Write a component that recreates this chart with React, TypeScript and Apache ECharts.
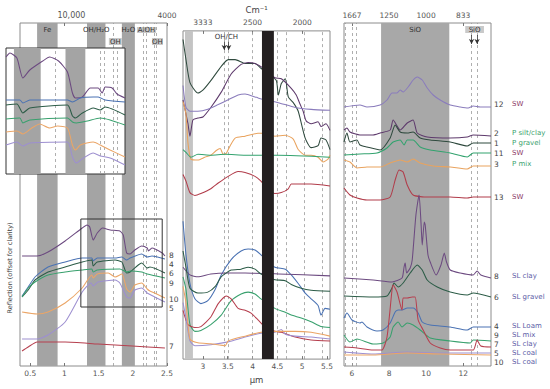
import React, { useEffect, useRef } from "react";
import * as echarts from "echarts";

const FONT = "DejaVu Sans";

// ---------- Panel 1: VNIR (µm vs offset reflectance) ----------
const vnir8 = [[0.38,110],[0.6,110],[0.76,114],[1.01,125],[1.26,138],[1.33,141],[1.37,139],[1.42,126],[1.48,133],[1.56,138],[1.67,136],[1.81,135],[1.86,131],[1.91,113],[1.96,112],[2.03,116],[2.13,120],[2.21,118],[2.23,115],[2.28,118],[2.43,113],[2.47,110]];
const vnir4 = [[0.38,70],[0.47,79],[0.57,89],[0.76,99],[1.01,104],[1.26,108],[1.4,108],[1.42,105],[1.48,108],[1.74,108],[1.84,109],[1.91,106],[1.96,108],[2.13,112],[2.21,109],[2.28,110],[2.47,107]];
const vnir6 = [[0.38,69],[0.47,76],[0.57,86],[0.76,94],[1.01,99],[1.26,104],[1.4,106],[1.42,100],[1.48,104],[1.74,106],[1.84,104],[1.91,93],[1.96,94],[2.08,101],[2.13,103],[2.21,98],[2.25,99],[2.47,93]];
const vnir9 = [[0.38,69],[0.47,78],[0.57,84],[0.76,91],[1.01,94],[1.26,96],[1.4,97],[1.42,94],[1.48,96],[1.81,97],[1.91,94],[1.96,95],[2.13,94],[2.21,92],[2.47,88]];
const vnir10 = [[0.38,54],[0.6,52],[0.76,54],[1.01,63],[1.26,78],[1.4,91],[1.42,88],[1.48,92],[1.64,93],[1.74,89],[1.84,92],[1.91,77],[1.96,74],[2.03,81],[2.13,83],[2.21,77],[2.25,75],[2.32,73],[2.47,68]];
const vnir5 = [[0.38,27],[0.6,27],[0.76,31],[1.01,44],[1.26,74],[1.39,83],[1.42,80],[1.49,84],[1.74,86],[1.81,83],[1.91,69],[1.96,68],[2.03,76],[2.13,78],[2.21,73],[2.32,69],[2.47,64]];
const vnir7 = [[0.38,15],[0.47,19],[0.6,24],[1.01,24],[1.49,22],[1.99,20],[2.47,18]];

const vnirTicks = [0.5, 1, 1.5, 2, 2.5];
const vnirTopTicks = [1, 2.5];
const vnirBands = [[0.6, 0.9], [1.33, 1.6], [1.84, 2.03]];
const vnirBandNames = ["Fe", "OH/H₂O", "H₂O"];
const vnirDashes = [1.71, 2.155, 2.2, 2.31, 2.35];
const vnirBoxes = [[2.06, 2.34, 333, 339], [1.65, 1.84, 321, 328], [2.28, 2.44, 321, 328]];
const vnirBoxNames = ["AlOH", "OH", "OH"];
const zoomBox = [[1.24, 59], [2.43, 147]];

// ---------- Inset: zoom of 1.25–2.45 µm ----------
const in8 = [[1.25,117],[1.29,121],[1.36,116],[1.42,96],[1.49,104],[1.62,113],[1.69,117],[1.78,113],[1.87,102],[1.92,81],[1.95,76],[2.02,77],[2.1,86],[2.18,86],[2.22,81],[2.25,87],[2.32,86],[2.37,80],[2.45,76]];
const in4 = [[1.25,74],[1.39,74],[1.42,71],[1.49,74],[1.87,74],[1.92,72],[2.0,76],[2.13,77],[2.18,77],[2.25,74],[2.45,72]];
const in6 = [[1.25,69],[1.36,70],[1.42,61],[1.49,66],[1.87,69],[1.92,58],[1.95,56],[2.02,61],[2.13,66],[2.2,64],[2.25,67],[2.45,59]];
const in9 = [[1.25,55],[1.39,56],[1.42,51],[1.49,54],[1.87,56],[1.92,52],[1.96,51],[2.07,53],[2.2,56],[2.3,54],[2.45,49]];
const in10 = [[1.25,42],[1.36,43],[1.42,40],[1.51,46],[1.59,50],[1.69,46],[1.77,48],[1.87,46],[1.92,29],[1.95,24],[2.0,29],[2.13,32],[2.2,29],[2.3,24],[2.45,17]];
const in5 = [[1.25,29],[1.36,32],[1.42,28],[1.49,31],[1.87,32],[1.92,17],[1.96,11],[2.03,16],[2.13,21],[2.2,18],[2.3,16],[2.45,9]];
const insetBands = [[1.33, 1.6], [1.85, 2.05]];
const insetDashes = [1.745, 2.2, 2.24, 2.33, 2.37];

// ---------- Panel 2: MIR 2.6–5.56 µm ----------
const mir1 = [[2.6,334],[2.66,313],[2.74,289],[2.9,278],[3.0,281],[3.16,291],[3.37,306],[3.51,313],[3.65,313],[3.85,309],[4.05,309],[4.17,304],[4.37,296],[4.48,291],[4.52,276],[4.58,288],[4.66,293],[4.72,274],[4.82,268],[4.92,259],[5.06,231],[5.18,221],[5.32,223],[5.38,231],[5.48,229],[5.56,219]];
const mir2 = [[2.6,271],[2.7,246],[2.74,233],[2.8,250],[2.9,252],[3.0,253],[3.16,263],[3.37,279],[3.57,298],[3.77,308],[3.91,310],[4.05,309],[4.25,303],[4.45,294],[4.58,293],[4.78,283],[4.88,276],[4.96,266],[5.02,259],[5.08,249],[5.18,246],[5.32,248],[5.38,243],[5.48,246],[5.56,239]];
const mir12 = [[2.6,286],[2.66,263],[2.74,259],[2.9,259],[3.1,261],[3.31,266],[3.51,271],[3.71,276],[3.85,277],[4.05,274],[4.11,273],[4.25,271],[4.52,268],[4.86,263],[5.18,261],[5.56,260]];
const mir3 = [[2.6,269],[2.66,256],[2.7,226],[2.76,209],[2.9,208],[3.04,211],[3.16,213],[3.27,218],[3.35,220],[3.41,214],[3.47,215],[3.55,223],[3.65,231],[3.85,233],[4.11,236],[4.25,236],[4.45,233],[4.66,234],[4.82,230],[4.92,219],[5.06,213],[5.18,213],[5.32,211],[5.42,206],[5.52,209],[5.56,213]];
const mir11 = [[2.6,219],[2.66,216],[2.76,211],[2.9,214],[3.16,213],[3.45,214],[3.85,213],[4.52,213],[5.56,211]];
const mir13 = [[2.6,193],[2.66,186],[2.74,174],[2.84,171],[2.96,173],[3.16,178],[3.31,184],[3.51,191],[3.71,196],[3.85,195],[4.05,191],[4.17,186],[4.31,178],[4.45,173],[4.58,174],[4.72,178],[4.78,183],[4.92,183],[5.18,183],[5.56,181]];
const mir4 = [[2.6,144],[2.66,109],[2.74,79],[2.84,63],[2.96,58],[3.1,61],[3.25,73],[3.37,88],[3.57,104],[3.77,113],[3.91,115],[4.05,114],[4.17,109],[4.45,96],[4.66,94],[4.78,88],[4.92,79],[5.06,69],[5.18,63],[5.32,56],[5.38,46],[5.46,53],[5.56,52]];
const mir8 = [[2.6,96],[2.74,88],[2.9,86],[3.16,89],[3.51,90],[3.85,90],[4.52,89],[5.56,87]];
const mir6 = [[2.6,113],[2.66,96],[2.74,74],[2.9,69],[3.1,70],[3.25,76],[3.37,86],[3.57,93],[3.77,94],[3.91,96],[4.05,94],[4.17,89],[4.45,83],[4.66,82],[4.78,78],[4.98,74],[5.18,72],[5.56,71]];
const mir9 = [[2.6,86],[2.66,73],[2.74,36],[2.84,29],[2.96,30],[3.16,36],[3.37,46],[3.57,61],[3.77,68],[3.91,70],[4.05,68],[4.17,63],[4.45,53],[4.66,49],[4.78,46],[4.98,43],[5.18,39],[5.38,34],[5.56,33]];
const mir7 = [[2.6,51],[2.7,36],[2.84,33],[2.96,34],[3.16,44],[3.31,58],[3.47,66],[3.57,63],[3.71,53],[3.85,51],[3.97,48],[4.11,41],[4.25,34],[4.45,29],[4.58,28],[4.86,23],[5.18,20],[5.56,19]];
const mir5 = [[2.6,59],[2.66,43],[2.74,19],[2.84,14],[3.16,15],[3.51,18],[3.85,23],[4.17,27],[4.45,28],[4.58,31],[4.66,26],[4.86,24],[5.18,23],[5.56,21]];
const mir10 = [[2.6,76],[2.66,59],[2.74,21],[2.9,17],[3.16,16],[3.45,14],[3.51,19],[3.85,24],[4.17,28],[4.52,29],[4.86,29],[5.18,28],[5.56,24]];

const mirTicks = [3, 3.5, 4, 4.5, 5, 5.5];
const mirTopTicks = [3, 4, 5];
const mirLightBand = [2.64, 2.8];
const mirDarkBand = [4.19, 4.43];
const mirDashes = [3.43, 3.52, 3.99, 4.5, 4.68, 5.05, 5.4];
const mirArrows = [3.43, 3.52];

// ---------- Panel 3: TIR 5.57–13.5 µm ----------
const tir12 = [[5.57,259],[6.43,261],[6.81,259],[7.52,261],[7.89,266],[8.16,273],[8.43,273],[8.6,276],[8.76,274],[9.03,279],[9.3,286],[9.52,289],[9.79,286],[10.06,278],[10.38,271],[10.76,266],[11.3,261],[11.84,259],[12.27,258],[12.54,260],[12.92,259],[13.5,259]];
const tir2 = [[5.57,236],[5.73,238],[5.89,234],[6.43,231],[7.14,231],[7.52,233],[8.06,236],[8.22,246],[8.6,236],[8.98,243],[9.3,246],[9.52,233],[10.06,229],[11.3,228],[12.22,229],[12.54,231],[13.5,230]];
const tir1 = [[5.57,224],[5.73,233],[5.89,224],[6.27,226],[6.43,221],[6.81,219],[7.52,216],[8.06,228],[8.33,241],[8.6,234],[8.98,233],[9.3,234],[9.68,228],[10.22,226],[11.3,224],[12.22,220],[12.54,223],[13.5,223]];
const tir11 = [[5.57,211],[6.43,212],[7.35,213],[7.89,218],[8.22,224],[8.6,226],[8.81,221],[8.98,226],[9.3,226],[9.68,219],[10.22,216],[11.3,213],[12.22,209],[12.54,213],[13.5,213]];
const tir3 = [[5.57,206],[5.89,204],[6.27,198],[6.81,199],[7.52,199],[8.06,203],[8.6,206],[8.98,204],[9.3,207],[9.68,203],[10.38,200],[11.3,199],[12.22,197],[12.54,200],[13.5,200]];
const tir13 = [[5.57,178],[5.89,171],[6.27,168],[6.81,166],[7.52,166],[8.06,169],[8.33,186],[8.54,196],[8.76,194],[8.98,181],[9.3,171],[10.06,169],[11.3,169],[12.22,168],[12.54,169],[13.5,169]];
const tir8 = [[5.57,88],[7.14,86],[8.16,84],[8.7,88],[8.81,99],[8.87,103],[8.95,93],[9.14,98],[9.25,106],[9.45,151],[9.62,171],[9.73,141],[9.79,121],[9.9,144],[9.95,141],[10.1,111],[10.22,104],[10.54,91],[10.8,101],[10.98,113],[11.1,104],[11.3,96],[11.84,93],[12.54,91],[12.75,95],[12.95,91],[13.5,88]];
const tir6 = [[5.57,70],[7.14,69],[7.89,70],[8.16,78],[8.27,83],[8.49,79],[8.76,83],[9.14,93],[9.52,101],[9.79,96],[10.06,86],[10.6,79],[11.3,74],[12.22,71],[12.54,73],[13.5,69]];
const tir4 = [[5.57,48],[5.73,53],[6.0,46],[6.43,43],[6.54,44],[6.81,39],[7.35,35],[7.68,36],[8.06,43],[8.33,54],[8.49,56],[8.7,56],[8.98,58],[9.3,58],[9.57,53],[9.79,44],[10.22,41],[11.3,39],[12.22,36],[12.54,39],[13.5,39]];
const tir9 = [[5.57,31],[5.89,24],[6.27,27],[7.14,22],[7.68,23],[8.06,29],[8.22,39],[8.49,44],[8.7,39],[8.98,43],[9.3,41],[9.68,36],[10.22,28],[11.3,25],[12.38,23],[12.54,26],[13.5,25]];
const tir7 = [[5.57,19],[6.27,18],[7.14,16],[7.62,16],[7.89,29],[8.16,76],[8.22,81],[8.43,74],[8.7,56],[8.76,68],[8.98,68],[9.25,69],[9.41,69],[9.57,46],[9.84,36],[10.22,23],[10.76,18],[11.3,16],[12.54,16],[12.75,26],[12.95,20],[13.5,19]];
const tir5 = [[5.57,14],[7.14,12],[8.98,14],[10.76,13],[13.5,13]];
const tir10 = [[5.57,11],[7.14,11],[8.98,13],[10.76,12],[13.5,11]];

const tirTicks = [6, 8, 10, 12];
const tirTopTicks = [6, 8, 10, 12];
const tirBand = [7.57, 11.25];
const tirDashes = [5.65, 6.02, 6.25, 12.45, 12.75];
const tirArrows = [12.45, 12.75];
const tirBox = [12.11, 13.12, 333, 340];

// sample numbers and names (right-hand labels)
const tirIds = ["12", "2", "1", "11", "3", "13", "8", "6", "4", "9", "7", "5", "10"];
const tirNames = ["SW", "P silt/clay", "P gravel", "SW", "P mix", "SW", "SL clay", "SL gravel", "SL Loam", "SL mix", "SL clay", "SL coal", "SL coal"];
const vnirIds = ["8", "4", "6", "9", "10", "5", "7"];

const C = {
  c1: "#2f4a3e", c2: "#5e3a6c", c3: "#e9a35e", c4: "#4a72b3", c5: "#9d8fd0",
  c6: "#2c5c47", c7: "#b63f4e", c8: "#6c4a80", c9: "#38a06d", c10: "#eba566",
  c11: "#33a36f", c12: "#8a7cbc", c13: "#b13c4a",
};
const NAME_COL: Record<string, string> = { SW: "#8c3b66", P: "#3a9f6e", SL: "#5a5ca6" };

function wn(v: number) {
  const n = Math.round(10000 / v);
  return n >= 10000 ? "{big|" + n.toLocaleString("en-US") + "}" : String(n);
}

function curve(data: number[][], color: string, idx: number, z = 3, endLabel?: any) {
  return {
    type: "line", data, xAxisIndex: idx, yAxisIndex: idx, symbol: "none", smooth: 0.2, z,
    silent: true, clip: true,
    lineStyle: { color, width: 1.05 },
    endLabel: endLabel || { show: false },
  };
}

function numLabel(id: string, dy: number) {
  return { show: true, formatter: id, distance: 4, offset: [0, dy], color: "#444", fontSize: 7.5, lineHeight: 7, fontFamily: FONT };
}
function tirLabel(i: number, dy: number) {
  const nm = tirNames[i];
  const col = nm.startsWith("SW") ? NAME_COL.SW : nm.startsWith("SL") ? NAME_COL.SL : NAME_COL.P;
  return {
    show: true, formatter: `{n|${tirIds[i]}}{t|${nm}}`, distance: 3, offset: [0, dy],
    rich: {
      n: { width: 18, color: "#444", fontSize: 7.5, lineHeight: 7, fontFamily: FONT },
      t: { color: col, fontSize: 7, lineHeight: 7, fontFamily: FONT },
    },
  };
}

const bandLabel = (t: string) => ({ show: true, position: "insideTop", distance: 3, formatter: t, color: "#333", fontSize: 7, fontFamily: FONT });
const dashStyle = { type: [3, 3], color: "#9a9a9a", width: 0.8 };

function decor(idx: number, x0: number, opts: any) {
  return { type: "line", xAxisIndex: idx, yAxisIndex: idx, data: [[x0, -50]], symbol: "none", lineStyle: { opacity: 0 }, silent: true, ...opts };
}

export default function App() {
  const ref = useRef<HTMLDivElement>(null);
  useEffect(() => {
    if (!ref.current) return;
    const chart = echarts.init(ref.current, undefined, { renderer: "svg" });
    const axisLabelBase = { fontSize: 7.5, color: "#555", fontFamily: FONT };
    const bottomAxis = (g: number, min: number, max: number, ticks: number[], name?: string) => ({
      type: "value", gridIndex: g, position: "bottom", min, max,
      axisLine: { show: false }, splitLine: { show: false },
      axisTick: { show: true, customValues: ticks, inside: true, length: 3, lineStyle: { color: "#777" } },
      axisLabel: { ...axisLabelBase, customValues: ticks, margin: 3, formatter: (v: number) => String(v) },
      name, nameLocation: "middle", nameGap: 12, nameTextStyle: { fontSize: 8.5, color: "#444", fontFamily: FONT },
    });
    const topAxis = (g: number, min: number, max: number, ticks: number[], name?: string) => ({
      type: "value", gridIndex: g, position: "top", min, max,
      axisLine: { show: false }, splitLine: { show: false },
      axisTick: { show: true, customValues: ticks, inside: true, length: 3, lineStyle: { color: "#777" } },
      axisLabel: {
        ...axisLabelBase, customValues: ticks, margin: 4, formatter: (v: number) => wn(v),
        rich: { big: { fontSize: 8, color: "#555", fontFamily: FONT, padding: [0, 0, 0, 14] } },
      },
      name, nameLocation: "middle", nameGap: 15, nameTextStyle: { fontSize: 8.5, color: "#444", fontFamily: FONT },
    });
    const yAx = (g: number, max: number) => ({ type: "value", gridIndex: g, min: 0, max, show: false });
    const gridBase = { show: true, borderColor: "#8c8c8c", borderWidth: 1, backgroundColor: "transparent" };

    const series: any[] = [
      // ---- panel 1 decor
      decor(0, 0.5, {
        z: 1,
        markArea: {
          z: 1, silent: true,
          data: [
            ...vnirBands.map((b, i) => [{ xAxis: b[0], itemStyle: { color: "#a4a4a4" }, label: bandLabel(vnirBandNames[i]) }, { xAxis: b[1] }]),
            ...vnirBoxes.map((b, i) => [{ coord: [b[0], b[2]], itemStyle: { color: "#c9c9c9" }, label: { show: true, position: "inside", formatter: vnirBoxNames[i], color: "#333", fontSize: 7, fontFamily: FONT } }, { coord: [b[1], b[3]] }]),
          ],
        },
        markLine: { z: 2, silent: true, symbol: ["none", "none"], label: { show: false }, lineStyle: dashStyle, data: vnirDashes.map((v) => ({ xAxis: v })) },
      }),
      decor(0, 0.5, {
        z: 5,
        markArea: { z: 5, silent: true, data: [[{ coord: zoomBox[0], itemStyle: { color: "rgba(0,0,0,0)", borderColor: "#333", borderWidth: 1 } }, { coord: zoomBox[1] }]] },
      }),
      curve(vnir8, C.c8, 0, 3, numLabel(vnirIds[0], -1)),
      curve(vnir4, C.c4, 0, 3, numLabel(vnirIds[1], 5)),
      curve(vnir6, C.c6, 0, 3, numLabel(vnirIds[2], 0)),
      curve(vnir9, C.c9, 0, 3, numLabel(vnirIds[3], 5)),
      curve(vnir10, C.c10, 0, 3, numLabel(vnirIds[4], 1)),
      curve(vnir5, C.c5, 0, 3, numLabel(vnirIds[5], 6)),
      curve(vnir7, C.c7, 0, 3, numLabel(vnirIds[6], -2)),

      // ---- inset
      decor(3, 1.3, {
        z: 10,
        markArea: { z: 10, silent: true, data: [[{ coord: [1.25, 0], itemStyle: { color: "#ffffff", borderColor: "#333", borderWidth: 1 } }, { coord: [2.45, 126] }]] },
      }),
      decor(3, 1.3, {
        z: 11,
        markArea: { z: 11, silent: true, data: insetBands.map((b) => [{ xAxis: b[0], itemStyle: { color: "#a4a4a4" } }, { xAxis: b[1] }]) },
        markLine: { z: 11, silent: true, symbol: ["none", "none"], label: { show: false }, lineStyle: dashStyle, data: insetDashes.map((v) => ({ xAxis: v })) },
      }),
      curve(in8, C.c8, 3, 12),
      curve(in4, C.c4, 3, 12),
      curve(in6, C.c6, 3, 12),
      curve(in9, C.c9, 3, 12),
      curve(in10, C.c10, 3, 12),
      curve(in5, C.c5, 3, 12),

      // ---- panel 2 decor
      decor(1, 3, {
        z: 1,
        markArea: {
          z: 1, silent: true,
          data: [
            [{ xAxis: mirLightBand[0], itemStyle: { color: "#c4c4c4" } }, { xAxis: mirLightBand[1] }],
            [{ coord: [3.3, 333], itemStyle: { color: "rgba(0,0,0,0)" }, label: { show: true, position: "inside", formatter: "OH/CH", color: "#333", fontSize: 7, fontFamily: FONT } }, { coord: [3.65, 341] }],
          ],
        },
        markLine: { z: 2, silent: true, symbol: ["none", "none"], label: { show: false }, lineStyle: dashStyle, data: mirDashes.map((v) => ({ xAxis: v })) },
      }),
      decor(1, 3, {
        z: 6,
        markArea: { z: 6, silent: true, data: [[{ xAxis: mirDarkBand[0], itemStyle: { color: "#231f20" } }, { xAxis: mirDarkBand[1] }]] },
        markLine: {
          z: 6, silent: true, symbol: ["none", "arrow"], symbolSize: [4, 5], label: { show: false },
          lineStyle: { type: "solid", color: "#333", width: 0.8 },
          data: mirArrows.map((v) => [{ coord: [v, 332] }, { coord: [v, 323] }]),
        },
      }),
      curve(mir1, C.c1, 1),
      curve(mir2, C.c2, 1),
      curve(mir12, C.c12, 1),
      curve(mir3, C.c3, 1),
      curve(mir11, C.c11, 1),
      curve(mir13, C.c13, 1),
      curve(mir4, C.c4, 1),
      curve(mir8, C.c8, 1),
      curve(mir6, C.c6, 1),
      curve(mir9, C.c9, 1),
      curve(mir7, C.c7, 1),
      curve(mir5, C.c5, 1),
      curve(mir10, C.c10, 1),

      // ---- panel 3 decor
      decor(2, 6, {
        z: 1,
        markArea: {
          z: 1, silent: true,
          data: [
            [{ xAxis: tirBand[0], itemStyle: { color: "#a8a8a8" }, label: bandLabel("SiO") }, { xAxis: tirBand[1] }],
            [{ coord: [tirBox[0], tirBox[2]], itemStyle: { color: "#c9c9c9" }, label: { show: true, position: "inside", formatter: "SiO", color: "#333", fontSize: 7, fontFamily: FONT } }, { coord: [tirBox[1], tirBox[3]] }],
          ],
        },
        markLine: { z: 2, silent: true, symbol: ["none", "none"], label: { show: false }, lineStyle: dashStyle, data: tirDashes.map((v) => ({ xAxis: v })) },
      }),
      decor(2, 6, {
        z: 6,
        markLine: {
          z: 6, silent: true, symbol: ["none", "arrow"], symbolSize: [4, 5], label: { show: false },
          lineStyle: { type: "solid", color: "#333", width: 0.8 },
          data: tirArrows.map((v) => [{ coord: [v, 331] }, { coord: [v, 322] }]),
        },
      }),
      curve(tir12, C.c12, 2, 3, tirLabel(0, -3)),
      curve(tir2, C.c2, 2, 3, tirLabel(1, -3)),
      curve(tir1, C.c1, 2, 3, tirLabel(2, 0)),
      curve(tir11, C.c11, 2, 3, tirLabel(3, 0)),
      curve(tir3, C.c3, 2, 3, tirLabel(4, -2)),
      curve(tir13, C.c13, 2, 3, tirLabel(5, 0)),
      curve(tir8, C.c8, 2, 3, tirLabel(6, -2)),
      curve(tir6, C.c6, 2, 3, tirLabel(7, 0)),
      curve(tir4, C.c4, 2, 3, tirLabel(8, -1)),
      curve(tir9, C.c9, 2, 3, tirLabel(9, -6)),
      curve(tir7, C.c7, 2, 3, tirLabel(10, -3)),
      curve(tir5, C.c5, 2, 3, tirLabel(11, 0)),
      curve(tir10, C.c10, 2, 3, tirLabel(12, 7)),
    ];

    chart.setOption({
      animation: false,
      textStyle: { fontFamily: FONT },
      grid: [
        { left: 20, top: 23, width: 147, height: 343, ...gridBase },
        { left: 183, top: 23, width: 147, height: 343, ...gridBase },
        { left: 344, top: 23, width: 147, height: 343, ...gridBase },
        { left: 6, top: 48, width: 119, height: 126, show: false },
      ],
      xAxis: [
        bottomAxis(0, 0.35, 2.5, vnirTicks),
        bottomAxis(1, 2.6, 5.56, mirTicks, "µm"),
        bottomAxis(2, 5.57, 13.5, tirTicks),
        { type: "value", gridIndex: 3, min: 1.25, max: 2.45, show: false },
        topAxis(0, 0.35, 2.5, vnirTopTicks),
        topAxis(1, 2.6, 5.56, mirTopTicks, "Cm⁻¹"),
        topAxis(2, 5.57, 13.5, tirTopTicks),
      ],
      yAxis: [yAx(0, 343), yAx(1, 343), yAx(2, 343), yAx(3, 126)],
      graphic: [
        {
          type: "text", x: 10, y: 268, rotation: Math.PI / 2,
          style: { text: "Reflection (offset for clarity)", fill: "#444", font: `6.5px "${FONT}"`, align: "center", verticalAlign: "middle" },
        },
      ],
      series,
    });
    return () => chart.dispose();
  }, []);
  return <div ref={ref} style={{ position: "fixed", left: 0, top: 0, width: 550, height: 389, background: "#fff" }} />;
}
